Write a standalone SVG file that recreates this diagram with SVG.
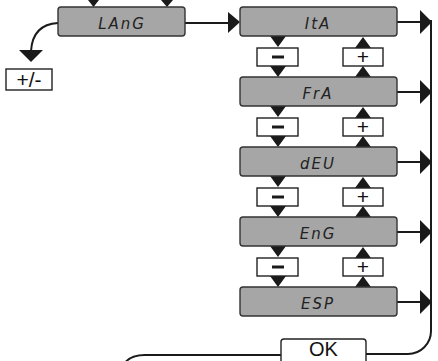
<svg xmlns="http://www.w3.org/2000/svg" width="438" height="361" viewBox="0 0 438 361">
<defs>
<style>
.lcd{fill:#a6a6a6;stroke:#333;stroke-width:1.4}
.lt{font-family:"DejaVu Sans",sans-serif;font-style:italic;font-size:15px;letter-spacing:2px;fill:#222;text-anchor:middle}
.key{fill:#fff;stroke:#222;stroke-width:1.4}
.kt{font-family:"Liberation Sans",Arial,sans-serif;font-size:21px;fill:#111;text-anchor:middle}
.ln{fill:none;stroke:#1a1a1a;stroke-width:2}
.ah{fill:#1a1a1a}
</style>
</defs>
<g id="connectors">
<path class="ln" d="M185,23 H230"/>
<polygon class="ah" points="228,12 240,22 228,33"/>
<path class="ln" d="M58,23 C40,24 32,35 31,51"/>
<polygon class="ah" points="19,50 43,50 31,62"/>
<polygon class="ah" points="88,0 99,0 93.5,7"/>
<polygon class="ah" points="161,0 173,0 167,7"/>
<path class="ln" d="M431,20 V331 A23,23 0 0 1 408,354 H366"/>
<path class="ln" d="M281,355 H145 C135,355 128,358 124,364"/>
<path class="ln" d="M397,22 H422"/>
<polygon class="ah" points="420,10 432,22 420,34"/>
<path class="ln" d="M397,92 H422"/>
<polygon class="ah" points="420,80 432,92 420,104"/>
<path class="ln" d="M397,162 H422"/>
<polygon class="ah" points="420,150 432,162 420,174"/>
<path class="ln" d="M397,232 H422"/>
<polygon class="ah" points="420,220 432,232 420,244"/>
<path class="ln" d="M397,302 H422"/>
<polygon class="ah" points="420,290 432,302 420,314"/>
<g id="steps">
<polygon class="ah" points="270,36 286,36 278,47"/>
<polygon class="ah" points="270,66 286,66 278,77"/>
<polygon class="ah" points="355,48 371,48 363,37"/>
<polygon class="ah" points="355,77 371,77 363,66"/>
<polygon class="ah" points="270,106 286,106 278,117"/>
<polygon class="ah" points="270,136 286,136 278,147"/>
<polygon class="ah" points="355,118 371,118 363,107"/>
<polygon class="ah" points="355,147 371,147 363,136"/>
<polygon class="ah" points="270,176 286,176 278,187"/>
<polygon class="ah" points="270,206 286,206 278,217"/>
<polygon class="ah" points="355,188 371,188 363,177"/>
<polygon class="ah" points="355,217 371,217 363,206"/>
<polygon class="ah" points="270,246 286,246 278,257"/>
<polygon class="ah" points="270,276 286,276 278,287"/>
<polygon class="ah" points="355,258 371,258 363,247"/>
<polygon class="ah" points="355,287 371,287 363,276"/>
</g>
</g>
<g id="lang"><rect class="lcd" x="58" y="7" width="127" height="29" rx="3"/><text class="lt" x="122" y="29">LAnG</text></g>
<g id="pm"><rect class="key" x="6" y="69" width="46" height="21"/><text class="kt" x="29" y="87">+/-</text></g>
<g id="ita"><rect class="lcd" x="240" y="7" width="157" height="29" rx="3"/><text class="lt" x="318" y="29">ItA</text></g>
<g id="fra"><rect class="lcd" x="240" y="77" width="157" height="29" rx="3"/><text class="lt" x="318" y="99">FrA</text></g>
<g id="deu"><rect class="lcd" x="240" y="147" width="157" height="29" rx="3"/><text class="lt" x="318" y="169">dEU</text></g>
<g id="eng"><rect class="lcd" x="240" y="217" width="157" height="29" rx="3"/><text class="lt" x="318" y="239">EnG</text></g>
<g id="esp"><rect class="lcd" x="240" y="287" width="157" height="29" rx="3"/><text class="lt" x="318" y="309">ESP</text></g>
<g id="minus1"><rect class="key" x="257" y="48" width="41" height="18"/><rect class="ah" x="272" y="55.5" width="12" height="3"/></g>
<g id="plus1"><rect class="key" x="343" y="48" width="40" height="18"/><text class="kt" x="363" y="64">+</text></g>
<g id="minus2"><rect class="key" x="257" y="118" width="41" height="18"/><rect class="ah" x="272" y="125.5" width="12" height="3"/></g>
<g id="plus2"><rect class="key" x="343" y="118" width="40" height="18"/><text class="kt" x="363" y="134">+</text></g>
<g id="minus3"><rect class="key" x="257" y="188" width="41" height="18"/><rect class="ah" x="272" y="195.5" width="12" height="3"/></g>
<g id="plus3"><rect class="key" x="343" y="188" width="40" height="18"/><text class="kt" x="363" y="204">+</text></g>
<g id="minus4"><rect class="key" x="257" y="258" width="41" height="18"/><rect class="ah" x="272" y="265.5" width="12" height="3"/></g>
<g id="plus4"><rect class="key" x="343" y="258" width="40" height="18"/><text class="kt" x="363" y="274">+</text></g>
<g id="ok"><rect class="key" x="281" y="339" width="85" height="32" rx="3"/><text class="kt" style="font-size:20px" x="323.5" y="356">OK</text></g>
</svg>
